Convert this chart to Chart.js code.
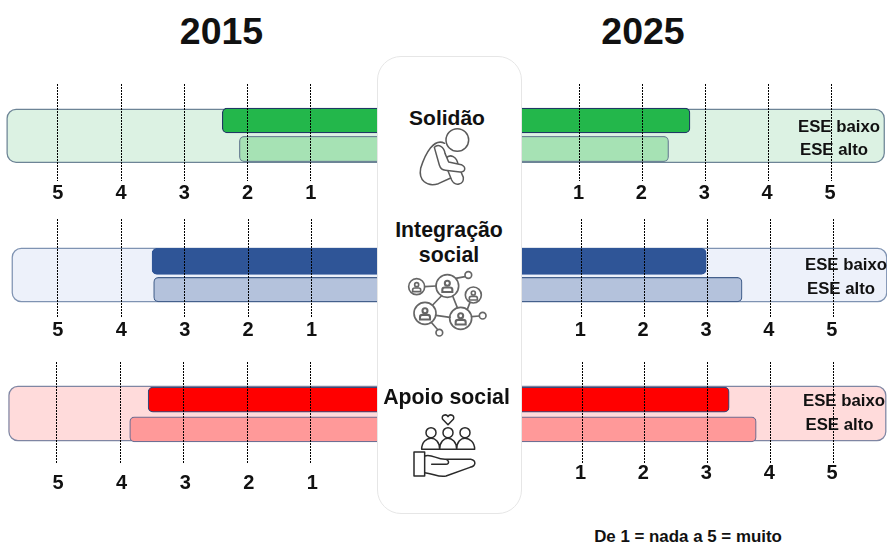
<!DOCTYPE html>
<html lang="pt">
<head>
<meta charset="utf-8">
<title>Solidão, integração social e apoio social</title>
<script src="https://cdn.jsdelivr.net/npm/chart.js@4"></script>
<style>
html,body{margin:0;padding:0;background:#fff;}
#page{position:relative;width:887px;height:542px;overflow:hidden;font-family:"Liberation Sans",Arial,sans-serif;font-weight:bold;color:#111;}
.wrap{position:absolute;left:0;width:887px;}
.wrap canvas{display:block;}
.t{position:absolute;transform:translate(-50%,-50%);white-space:nowrap;line-height:1;z-index:3;}
#card{position:absolute;left:376.5px;top:56px;width:143px;height:456px;border:1px solid #e6e6e6;border-radius:24px;background:#fff;z-index:2;}
svg.ic{position:absolute;z-index:3;fill:none;}
</style>
</head>
<body>
<div id="page">
  <div id="card"></div>

  <svg class="ic" style="left:370px;top:90px" width="160" height="110" viewBox="0 0 480 330" stroke="#5a5a5a" stroke-width="4.5" stroke-linejoin="round" stroke-linecap="round">
    <path fill="#fff" d="M224 160C192 143 166 190 152 235C145 270 170 292 205 281L242 264"/>
    <path fill="#fff" d="M228 205C240 190 262 200 264 225L280 262C282 285 255 290 245 270L228 228Z"/>
    <path fill="#fff" d="M193 172C205 160 222 170 225 190L236 216L274 224C290 232 286 246 270 246L226 241C216 240 211 235 208 225Z"/>
    <circle fill="#fff" cx="262" cy="150" r="34"/>
  </svg>

  <svg class="ic" style="left:370px;top:210px" width="160" height="140" viewBox="0 0 480 420" stroke="#666" stroke-width="5" stroke-linecap="round">
    <defs>
      <g id="person"><circle cx="0" cy="-8" r="6"/><path d="M-12 13V7Q-12 2 -6 2H6Q12 2 12 7V13Z"/></g>
    </defs>
    <path d="M164 230L198 228M257 205L285 200M214 258L188 285M248 258L262 293M198 316L240 322M300 277L292 298M305 320L328 318M185 338L202 358"/>
    <circle cx="140" cy="230" r="24"/><circle cx="232" cy="228" r="34"/><circle cx="310" cy="255" r="24"/><circle cx="165" cy="310" r="33"/><circle cx="272" cy="325" r="33"/>
    <circle cx="295" cy="195" r="10"/><circle cx="338" cy="317" r="10"/><circle cx="208" cy="368" r="10"/>
    <use href="#person" transform="translate(140 232)"/><use href="#person" transform="translate(232 230) scale(1.25)"/><use href="#person" transform="translate(310 257)"/><use href="#person" transform="translate(165 312) scale(1.25)"/><use href="#person" transform="translate(272 327) scale(1.25)"/>
  </svg>

  <svg class="ic" style="left:370px;top:380px" width="160" height="140" viewBox="0 0 480 420" stroke="#2a2a2a" stroke-width="4.5" stroke-linejoin="round" stroke-linecap="round">
    <path d="M234 134L218 118C212 106 228 100 234 110C240 100 256 106 250 118Z"/>
    <circle cx="183" cy="158" r="15"/><circle cx="234" cy="158" r="15"/><circle cx="285" cy="158" r="15"/>
    <path d="M155 208C155 186 170 175 183 175C196 175 209 186 209 208M209 208C209 186 222 175 234 175C246 175 260 186 260 208M260 208C260 186 272 175 285 175C298 175 314 186 314 208M155 208H314"/>
    <rect x="132" y="216" width="32" height="72"/>
    <path d="M164 228C186 220 200 240 228 238L302 238C320 242 318 258 300 262L228 288C205 293 190 280 164 278M185 253H228C240 252 236 240 228 238"/>
  </svg>

  <div class="t" style="left:221.5px;top:31.5px;font-size:37.5px">2015</div>
  <div class="t" style="left:643px;top:31.5px;font-size:37.5px">2025</div>

  <div class="t" style="left:447px;top:117px;font-size:21px">Solidão</div>
  <div class="t" style="left:449px;top:231px;font-size:21.3px">Integração</div>
  <div class="t" style="left:449px;top:256px;font-size:21.3px">social</div>
  <div class="t" style="left:446.5px;top:398px;font-size:21.3px">Apoio social</div>

  <div class="t" style="left:839px;top:126.5px;font-size:16.8px">ESE baixo</div>
  <div class="t" style="left:834px;top:150px;font-size:16.8px">ESE alto</div>
  <div class="t" style="left:846px;top:265px;font-size:16.8px">ESE baixo</div>
  <div class="t" style="left:841px;top:289px;font-size:16.8px">ESE alto</div>
  <div class="t" style="left:844px;top:401px;font-size:16.8px">ESE baixo</div>
  <div class="t" style="left:839.5px;top:424.5px;font-size:16.8px">ESE alto</div>

  <div class="t" style="left:688px;top:536.5px;font-size:16.9px">De 1 = nada a 5 = muito</div>
</div>

<script>
// ---- Data (scale: 1 = nada ... 5 = muito) ----
const categories = ["Solidão", "Integração social", "Apoio social"];
const groups = ["ESE baixo", "ESE alto"];
const tickValues = [1, 2, 3, 4, 5];
const baixo2015 = [2.40, 3.515, 3.56];
const alto2015  = [2.13, 3.49, 3.85];
const baixo2025 = [2.75, 2.98, 3.34];
const alto2025  = [2.41, 3.55, 3.77];
const bandReach2015 = [5.80, 5.72, 5.75];
const bandReach2025 = [5.84, 5.85, 5.83];
const hiddenBase = -0.3; // bars start behind the central card

// ---- Styles ----
const palette = [
  {band:"#DCF2E3", low:"#23B74B", high:"#A6E2B4", edgeBand:"#6D8496", edgeLow:"#1F3864", edgeHigh:"#6D8496"},
  {band:"#EDF1FA", low:"#2F5597", high:"#B4C2DC", edgeBand:"#7F93B2", edgeLow:"#2F5597", edgeHigh:"#44608C"},
  {band:"#FFDBDB", low:"#FF0000", high:"#FF9999", edgeBand:"#7F86A3", edgeLow:"#3B4A78", edgeHigh:"#6F6F93"}
];

// ---- Layout of each panel, in page pixels ----
const W = 887, FOOT = 34;
const frames = [
  {top:84,  bottom:181, lowC:120.5, highC:149,   lowT:25, highT:25.5, bandTop:109.3, bandBot:162.3,
   x3L:184.3, unitL:63.28, x3R:705.7, unitR:62.87, padL:0, padR:0, shiftL:0},
  {top:219, bottom:318, lowC:261.3, highC:289.7, lowT:26, highT:24.5, bandTop:248.3, bandBot:301.7,
   x3L:184.7, unitL:63.4,  x3R:707.5, unitR:62.88, padL:0, padR:0, shiftL:0},
  {top:362, bottom:464, lowC:399.7, highC:429.3, lowT:25, highT:25,   bandTop:386.3, bandBot:440.7,
   x3L:183.7, unitL:63.54, x3R:707.8, unitR:62.9,  padL:7, padR:-3, shiftL:1.5}
];

const bandPlugin = {
  id: "band",
  beforeDraw(chart) {
    // the axes have no layout height; let their labels paint below the plot
    chart.scales.xL.bottom = chart.height;
    chart.scales.xR.bottom = chart.height;
  },
  beforeDatasetsDraw(chart, args, o) {
    const c = chart.ctx;
    const l = chart.scales.xL.getPixelForValue(o.reachL);
    const r = chart.scales.xR.getPixelForValue(o.reachR);
    const t = chart.scales.y.getPixelForValue(o.from);
    const b = chart.scales.y.getPixelForValue(o.to);
    c.save();
    c.beginPath();
    c.roundRect(l, t, r - l, b - t, 9);
    c.fillStyle = o.fill;
    c.fill();
    c.lineWidth = 1.25;
    c.strokeStyle = o.edge;
    c.stroke();
    c.restore();
  }
};

function sideAxis(min, max, reverse, pad, labelOffset) {
  return {
    type: "linear", position: "bottom", min, max, reverse,
    afterBuildTicks: s => { s.ticks = tickValues.map(v => ({value: v})); },
    afterFit: s => { s.height = 0; },
    border: {display: false, dash: [2, 1]},
    grid: {color: "#000", lineWidth: 1, drawTicks: false, z: 1},
    ticks: {
      color: "#111", padding: pad, labelOffset, autoSkip: false, maxRotation: 0,
      font: {family: "Liberation Sans", size: 20, weight: "bold"}
    }
  };
}

categories.forEach((name, i) => {
  const f = frames[i], p = palette[i];
  const wrap = document.createElement("div");
  wrap.className = "wrap";
  const H = f.bottom - f.top + FOOT;
  wrap.style.top = f.top + "px";
  wrap.style.height = H + "px";
  const cv = document.createElement("canvas");
  cv.width = W; cv.height = H;
  cv.setAttribute("aria-label", name);
  wrap.appendChild(cv);
  document.getElementById("page").appendChild(wrap);

  const u = f.highC - f.lowC;
  const bar = (label, axis, value, row, fill, edge, thick) => ({
    label, xAxisID: axis, yAxisID: "y", grouped: false,
    data: [{x: [hiddenBase, value], y: row}],
    backgroundColor: fill, borderColor: edge, borderWidth: 1.25,
    borderSkipped: false, borderRadius: 5, barThickness: thick
  });

  const xL = sideAxis(3 - (W - f.x3L) / f.unitL, 3 + f.x3L / f.unitL, true, f.padL, f.shiftL);
  const xR = sideAxis(3 - f.x3R / f.unitR, 3 + (W - f.x3R) / f.unitR, false, f.padR, -1.5);

  new Chart(cv, {
    type: "bar",
    plugins: [bandPlugin],
    data: {
      datasets: [
        bar(groups[0] + " 2015", "xL", baixo2015[i], 0, p.low,  p.edgeLow,  f.lowT),
        bar(groups[1] + " 2015", "xL", alto2015[i],  1, p.high, p.edgeHigh, f.highT),
        bar(groups[0] + " 2025", "xR", baixo2025[i], 0, p.low,  p.edgeLow,  f.lowT),
        bar(groups[1] + " 2025", "xR", alto2025[i],  1, p.high, p.edgeHigh, f.highT)
      ]
    },
    options: {
      indexAxis: "y",
      responsive: false,
      animation: false,
      layout: {padding: {left: 0, right: 0, top: 0, bottom: FOOT}},
      plugins: {
        legend: {display: false},
        tooltip: {enabled: false},
        title: {display: false},
        band: {
          reachL: bandReach2015[i], reachR: bandReach2025[i],
          from: (f.bandTop - f.lowC) / u, to: (f.bandBot - f.lowC) / u,
          fill: p.band, edge: p.edgeBand
        }
      },
      scales: {
        xL, xR,
        y: {type: "linear", display: false, reverse: true, offset: false,
            min: (f.top - f.lowC) / u, max: (f.bottom - f.lowC) / u}
      }
    }
  });
});
</script>
</body>
</html>
